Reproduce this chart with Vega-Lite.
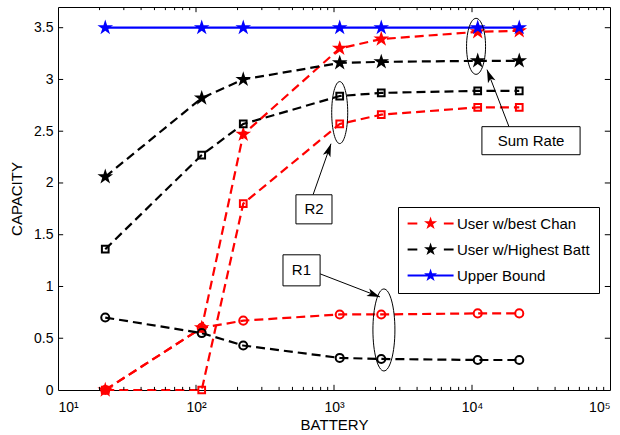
{
  "$schema": "https://vega.github.io/schema/vega-lite/v6.json",
  "width": 552,
  "height": 383,
  "autosize": {"type": "none"},
  "padding": {"left": 58, "top": 7, "right": 10, "bottom": 45},
  "background": "white",
  "config": {
    "font": "Liberation Sans",
    "view": {"stroke": "black", "strokeWidth": 1},
    "legend": {"padding": 9, "strokeColor": "black", "fillColor": "white", "cornerRadius": 0, "labelFontSize": 15, "labelFont": "Liberation Sans", "labelColor": "black", "labelOffset": 35, "symbolSize": 190, "symbolStrokeWidth": 0, "symbolOpacity": 1, "rowPadding": 10, "labelLimit": 300}
  },
  "datasets": {
    "series": [
      {"battery": 22, "capacity": 0, "user": "User w/best Chan", "rate": "Sum"},
      {"battery": 110, "capacity": 0.6, "user": "User w/best Chan", "rate": "Sum"},
      {"battery": 220, "capacity": 2.47, "user": "User w/best Chan", "rate": "Sum"},
      {"battery": 1100, "capacity": 3.3, "user": "User w/best Chan", "rate": "Sum"},
      {"battery": 2200, "capacity": 3.39, "user": "User w/best Chan", "rate": "Sum"},
      {"battery": 11000, "capacity": 3.46, "user": "User w/best Chan", "rate": "Sum"},
      {"battery": 22000, "capacity": 3.47, "user": "User w/best Chan", "rate": "Sum"},
      {"battery": 22, "capacity": 0, "user": "User w/best Chan", "rate": "R2"},
      {"battery": 110, "capacity": 0, "user": "User w/best Chan", "rate": "R2"},
      {"battery": 220, "capacity": 1.8, "user": "User w/best Chan", "rate": "R2"},
      {"battery": 1100, "capacity": 2.57, "user": "User w/best Chan", "rate": "R2"},
      {"battery": 2200, "capacity": 2.66, "user": "User w/best Chan", "rate": "R2"},
      {"battery": 11000, "capacity": 2.73, "user": "User w/best Chan", "rate": "R2"},
      {"battery": 22000, "capacity": 2.73, "user": "User w/best Chan", "rate": "R2"},
      {"battery": 22, "capacity": 0, "user": "User w/best Chan", "rate": "R1"},
      {"battery": 110, "capacity": 0.6, "user": "User w/best Chan", "rate": "R1"},
      {"battery": 220, "capacity": 0.67, "user": "User w/best Chan", "rate": "R1"},
      {"battery": 1100, "capacity": 0.73, "user": "User w/best Chan", "rate": "R1"},
      {"battery": 2200, "capacity": 0.73, "user": "User w/best Chan", "rate": "R1"},
      {"battery": 11000, "capacity": 0.74, "user": "User w/best Chan", "rate": "R1"},
      {"battery": 22000, "capacity": 0.74, "user": "User w/best Chan", "rate": "R1"},
      {"battery": 22, "capacity": 2.06, "user": "User w/Highest Batt", "rate": "Sum"},
      {"battery": 110, "capacity": 2.82, "user": "User w/Highest Batt", "rate": "Sum"},
      {"battery": 220, "capacity": 3.0, "user": "User w/Highest Batt", "rate": "Sum"},
      {"battery": 1100, "capacity": 3.16, "user": "User w/Highest Batt", "rate": "Sum"},
      {"battery": 2200, "capacity": 3.17, "user": "User w/Highest Batt", "rate": "Sum"},
      {"battery": 11000, "capacity": 3.18, "user": "User w/Highest Batt", "rate": "Sum"},
      {"battery": 22000, "capacity": 3.18, "user": "User w/Highest Batt", "rate": "Sum"},
      {"battery": 22, "capacity": 1.36, "user": "User w/Highest Batt", "rate": "R2"},
      {"battery": 110, "capacity": 2.27, "user": "User w/Highest Batt", "rate": "R2"},
      {"battery": 220, "capacity": 2.57, "user": "User w/Highest Batt", "rate": "R2"},
      {"battery": 1100, "capacity": 2.84, "user": "User w/Highest Batt", "rate": "R2"},
      {"battery": 2200, "capacity": 2.87, "user": "User w/Highest Batt", "rate": "R2"},
      {"battery": 11000, "capacity": 2.89, "user": "User w/Highest Batt", "rate": "R2"},
      {"battery": 22000, "capacity": 2.89, "user": "User w/Highest Batt", "rate": "R2"},
      {"battery": 22, "capacity": 0.7, "user": "User w/Highest Batt", "rate": "R1"},
      {"battery": 110, "capacity": 0.55, "user": "User w/Highest Batt", "rate": "R1"},
      {"battery": 220, "capacity": 0.43, "user": "User w/Highest Batt", "rate": "R1"},
      {"battery": 1100, "capacity": 0.31, "user": "User w/Highest Batt", "rate": "R1"},
      {"battery": 2200, "capacity": 0.3, "user": "User w/Highest Batt", "rate": "R1"},
      {"battery": 11000, "capacity": 0.29, "user": "User w/Highest Batt", "rate": "R1"},
      {"battery": 22000, "capacity": 0.29, "user": "User w/Highest Batt", "rate": "R1"},
      {"battery": 22, "capacity": 3.5, "user": "Upper Bound", "rate": "Sum"},
      {"battery": 110, "capacity": 3.5, "user": "Upper Bound", "rate": "Sum"},
      {"battery": 220, "capacity": 3.5, "user": "Upper Bound", "rate": "Sum"},
      {"battery": 1100, "capacity": 3.5, "user": "Upper Bound", "rate": "Sum"},
      {"battery": 2200, "capacity": 3.5, "user": "Upper Bound", "rate": "Sum"},
      {"battery": 11000, "capacity": 3.5, "user": "Upper Bound", "rate": "Sum"},
      {"battery": 22000, "capacity": 3.5, "user": "Upper Bound", "rate": "Sum"}
    ],
    "xticks": [
      {"value": 100, "kind": "major"}, {"value": 1000, "kind": "major"}, {"value": 10000, "kind": "major"},
      {"value": 20, "kind": "minor"}, {"value": 30, "kind": "minor"}, {"value": 40, "kind": "minor"}, {"value": 50, "kind": "minor"}, {"value": 60, "kind": "minor"}, {"value": 70, "kind": "minor"}, {"value": 80, "kind": "minor"}, {"value": 90, "kind": "minor"},
      {"value": 200, "kind": "minor"}, {"value": 300, "kind": "minor"}, {"value": 400, "kind": "minor"}, {"value": 500, "kind": "minor"}, {"value": 600, "kind": "minor"}, {"value": 700, "kind": "minor"}, {"value": 800, "kind": "minor"}, {"value": 900, "kind": "minor"},
      {"value": 2000, "kind": "minor"}, {"value": 3000, "kind": "minor"}, {"value": 4000, "kind": "minor"}, {"value": 5000, "kind": "minor"}, {"value": 6000, "kind": "minor"}, {"value": 7000, "kind": "minor"}, {"value": 8000, "kind": "minor"}, {"value": 9000, "kind": "minor"},
      {"value": 20000, "kind": "minor"}, {"value": 30000, "kind": "minor"}, {"value": 40000, "kind": "minor"}, {"value": 50000, "kind": "minor"}, {"value": 60000, "kind": "minor"}, {"value": 70000, "kind": "minor"}, {"value": 80000, "kind": "minor"}, {"value": 90000, "kind": "minor"}
    ],
    "yticks": [
      {"value": 0.5}, {"value": 1}, {"value": 1.5}, {"value": 2}, {"value": 2.5}, {"value": 3}, {"value": 3.5}
    ],
    "ellipses": [
      {"label": "R2", "battery": 1100, "capacity": 2.68},
      {"label": "R1", "battery": 2300, "capacity": 0.58},
      {"label": "Sum Rate", "battery": 10700, "capacity": 3.32}
    ],
    "boxes": [
      {"label": "R2", "x1": 530, "x2": 967, "y1": 1.886, "y2": 1.605, "cx": 716, "cy": 1.746},
      {"label": "R1", "x1": 427, "x2": 793, "y1": 1.306, "y2": 1.006, "cx": 581, "cy": 1.156},
      {"label": "Sum Rate", "x1": 11800, "x2": 60700, "y1": 2.544, "y2": 2.273, "cx": 26800, "cy": 2.408}
    ],
    "arrows": [
      {"label": "R2", "bx": 705, "by": 1.886, "tx": 951, "ty": 2.379},
      {"label": "R1", "bx": 793, "by": 1.122, "tx": 2153, "ty": 0.899},
      {"label": "Sum Rate", "bx": 18530, "by": 2.544, "tx": 12850, "ty": 3.095}
    ]
  },
  "resolve": {
    "scale": {"color": "independent", "shape": "independent"}
  },
  "layer": [
    {
      "data": {"name": "series"},
      "mark": {"type": "line", "strokeWidth": 2.2, "clip": false},
      "encoding": {
        "x": {"field": "battery", "type": "quantitative", "scale": {"type": "log", "domain": [10, 100000], "nice": false},
          "axis": {"orient": "bottom", "values": [10, 100, 1000, 10000, 100000],
            "domain": false, "ticks": false, "grid": false,
            "labelOverlap": false,
            "labelExpr": "'10' + ['⁰','¹','²','³','⁴','⁵'][round(log(datum.value)/LN10)]",
            "labelFont": "Liberation Sans", "labelColor": "black", "labelFontSize": 14, "labelPadding": 10,
            "title": "BATTERY", "titleFont": "Liberation Sans", "titleColor": "black", "titleFontWeight": "normal", "titleFontSize": 15, "titlePadding": 3}},
        "y": {"field": "capacity", "type": "quantitative", "scale": {"domain": [0, 3.7], "nice": false, "zero": false},
          "axis": {"orient": "left", "values": [0, 0.5, 1, 1.5, 2, 2.5, 3, 3.5], "format": "~g",
            "domain": false, "ticks": false, "grid": false,
            "labelFont": "Liberation Sans", "labelColor": "black", "labelFontSize": 14, "labelPadding": 5,
            "title": "CAPACITY", "titleFont": "Liberation Sans", "titleColor": "black", "titleFontWeight": "normal", "titleFontSize": 15, "titlePadding": 9}},
        "color": {"field": "user", "type": "nominal", "scale": {"domain": ["User w/best Chan", "User w/Highest Batt", "Upper Bound"], "range": ["#ff0000", "#000000", "#0000ff"]}, "legend": null},
        "strokeDash": {"field": "user", "type": "nominal", "scale": {"domain": ["User w/best Chan", "User w/Highest Batt", "Upper Bound"], "range": [[9, 5], [9, 5], [1, 0]]}, "legend": null},
        "detail": {"field": "rate", "type": "nominal"}
      }
    },
    {
      "data": {"name": "series"},
      "transform": [{"filter": "datum.rate === 'Sum'"}],
      "mark": {"type": "point", "shape": "M0,-1L0.2245,-0.309L0.951,-0.309L0.363,0.118L0.588,0.809L0,0.382L-0.588,0.809L-0.363,0.118L-0.951,-0.309L-0.2245,-0.309Z", "filled": true, "size": 270, "opacity": 1, "clip": false},
      "encoding": {
        "x": {"field": "battery", "type": "quantitative"},
        "y": {"field": "capacity", "type": "quantitative"},
        "color": {"field": "user", "type": "nominal", "scale": {"domain": ["User w/best Chan", "User w/Highest Batt", "Upper Bound"], "range": ["#ff0000", "#000000", "#0000ff"]}, "legend": null}
      }
    },
    {
      "data": {"name": "series"},
      "transform": [{"filter": "datum.rate === 'R2'"}],
      "mark": {"type": "point", "shape": "square", "filled": false, "size": 45, "strokeWidth": 2, "opacity": 1, "clip": false},
      "encoding": {
        "x": {"field": "battery", "type": "quantitative"},
        "y": {"field": "capacity", "type": "quantitative"},
        "color": {"field": "user", "type": "nominal", "scale": {"domain": ["User w/best Chan", "User w/Highest Batt", "Upper Bound"], "range": ["#ff0000", "#000000", "#0000ff"]}, "legend": null}
      }
    },
    {
      "data": {"name": "series"},
      "transform": [{"filter": "datum.rate === 'R1'"}],
      "mark": {"type": "point", "shape": "circle", "filled": false, "size": 65, "strokeWidth": 2, "opacity": 1, "clip": false},
      "encoding": {
        "x": {"field": "battery", "type": "quantitative"},
        "y": {"field": "capacity", "type": "quantitative"},
        "color": {"field": "user", "type": "nominal", "scale": {"domain": ["User w/best Chan", "User w/Highest Batt", "Upper Bound"], "range": ["#ff0000", "#000000", "#0000ff"]}, "legend": null}
      }
    },
    {
      "data": {"name": "series"},
      "transform": [{"filter": "datum.rate === 'Sum'"}],
      "mark": {"type": "point", "filled": true, "opacity": 0, "clip": false},
      "encoding": {
        "x": {"field": "battery", "type": "quantitative"},
        "y": {"field": "capacity", "type": "quantitative"},
        "color": {"field": "user", "type": "nominal", "scale": {"domain": ["User w/best Chan", "User w/Highest Batt", "Upper Bound"], "range": ["#ff0000", "#000000", "#0000ff"]}, "legend": {"orient": "none", "legendX": 340, "legendY": 200, "title": null}},
        "shape": {"field": "user", "type": "nominal", "scale": {"domain": ["User w/best Chan", "User w/Highest Batt", "Upper Bound"], "range": [
          "M2.33,-1L2.5545,-0.309L3.281,-0.309L2.693,0.118L2.918,0.809L2.33,0.382L1.742,0.809L1.967,0.118L1.379,-0.309L2.1055,-0.309ZM-1,-0.15L0.41,-0.15L0.41,0.15L-1,0.15ZM4.26,-0.15L5.67,-0.15L5.67,0.15L4.26,0.15Z",
          "M2.33,-1L2.5545,-0.309L3.281,-0.309L2.693,0.118L2.918,0.809L2.33,0.382L1.742,0.809L1.967,0.118L1.379,-0.309L2.1055,-0.309ZM-1,-0.15L0.41,-0.15L0.41,0.15L-1,0.15ZM4.26,-0.15L5.67,-0.15L5.67,0.15L4.26,0.15Z",
          "M2.33,-1L2.5545,-0.309L3.281,-0.309L2.693,0.118L2.918,0.809L2.33,0.382L1.742,0.809L1.967,0.118L1.379,-0.309L2.1055,-0.309ZM-1,-0.15L5.67,-0.15L5.67,0.15L-1,0.15Z"
        ]}, "legend": {"orient": "none", "legendX": 340, "legendY": 200, "title": null}}
      }
    },
    {
      "data": {"name": "ellipses"},
      "mark": {"type": "point", "filled": false, "size": 4, "strokeWidth": 1, "color": "black", "opacity": 1, "clip": false},
      "encoding": {
        "x": {"field": "battery", "type": "quantitative"},
        "y": {"field": "capacity", "type": "quantitative"},
        "shape": {"field": "label", "type": "nominal", "scale": {"domain": ["R2", "R1", "Sum Rate"], "range": [
          "M8 0A8 31 0 1 1 -8 0A8 31 0 1 1 8 0Z",
          "M11 0A11 41 0 1 1 -11 0A11 41 0 1 1 11 0Z",
          "M9.5 0A9.5 28 0 1 1 -9.5 0A9.5 28 0 1 1 9.5 0Z"
        ]}, "legend": null}
      }
    },
    {
      "data": {"name": "arrows"},
      "mark": {"type": "rule", "strokeWidth": 1, "color": "black", "clip": false},
      "encoding": {
        "x": {"field": "bx", "type": "quantitative"},
        "y": {"field": "by", "type": "quantitative"},
        "x2": {"field": "tx"},
        "y2": {"field": "ty"}
      }
    },
    {
      "data": {"name": "arrows"},
      "mark": {"type": "point", "filled": true, "size": 4, "color": "black", "opacity": 1, "clip": false},
      "encoding": {
        "x": {"field": "tx", "type": "quantitative"},
        "y": {"field": "ty", "type": "quantitative"},
        "shape": {"field": "label", "type": "nominal", "scale": {"domain": ["R2", "R1", "Sum Rate"], "range": [
          "M0 0L-0.56 13.59L-3.25 9.19L-8.1 10.93Z",
          "M0 0L-13.57 -0.91L-9.11 -3.49L-10.71 -8.39Z",
          "M0 0L8.41 10.69L3.51 9.1L0.95 13.57Z"
        ]}, "legend": null}
      }
    },
    {
      "data": {"name": "boxes"},
      "mark": {"type": "rect", "fill": "white", "stroke": "black", "strokeWidth": 1, "clip": false},
      "encoding": {
        "x": {"field": "x1", "type": "quantitative"},
        "x2": {"field": "x2"},
        "y": {"field": "y1", "type": "quantitative"},
        "y2": {"field": "y2"}
      }
    },
    {
      "data": {"name": "boxes"},
      "mark": {"type": "text", "fontSize": 15, "font": "Liberation Sans", "color": "black", "align": "center", "baseline": "middle", "clip": false},
      "encoding": {
        "x": {"field": "cx", "type": "quantitative"},
        "y": {"field": "cy", "type": "quantitative"},
        "text": {"field": "label", "type": "nominal"}
      }
    },
    {
      "data": {"name": "xticks"},
      "transform": [{"filter": "datum.kind === 'major'"}],
      "mark": {"type": "rule", "strokeWidth": 1, "color": "black", "clip": false},
      "encoding": {
        "x": {"field": "value", "type": "quantitative"},
        "y": {"datum": 0, "type": "quantitative"},
        "y2": {"datum": 0.05}
      }
    },
    {
      "data": {"name": "xticks"},
      "transform": [{"filter": "datum.kind === 'major'"}],
      "mark": {"type": "rule", "strokeWidth": 1, "color": "black", "clip": false},
      "encoding": {
        "x": {"field": "value", "type": "quantitative"},
        "y": {"datum": 3.7, "type": "quantitative"},
        "y2": {"datum": 3.65}
      }
    },
    {
      "data": {"name": "xticks"},
      "transform": [{"filter": "datum.kind === 'minor'"}],
      "mark": {"type": "rule", "strokeWidth": 1, "color": "black", "clip": false},
      "encoding": {
        "x": {"field": "value", "type": "quantitative"},
        "y": {"datum": 0, "type": "quantitative"},
        "y2": {"datum": 0.03}
      }
    },
    {
      "data": {"name": "xticks"},
      "transform": [{"filter": "datum.kind === 'minor'"}],
      "mark": {"type": "rule", "strokeWidth": 1, "color": "black", "clip": false},
      "encoding": {
        "x": {"field": "value", "type": "quantitative"},
        "y": {"datum": 3.7, "type": "quantitative"},
        "y2": {"datum": 3.67}
      }
    },
    {
      "data": {"name": "yticks"},
      "mark": {"type": "rule", "strokeWidth": 1, "color": "black", "clip": false},
      "encoding": {
        "y": {"field": "value", "type": "quantitative"},
        "x": {"datum": 10, "type": "quantitative"},
        "x2": {"datum": 10.9}
      }
    },
    {
      "data": {"name": "yticks"},
      "mark": {"type": "rule", "strokeWidth": 1, "color": "black", "clip": false},
      "encoding": {
        "y": {"field": "value", "type": "quantitative"},
        "x": {"datum": 100000, "type": "quantitative"},
        "x2": {"datum": 91700}
      }
    }
  ]
}
